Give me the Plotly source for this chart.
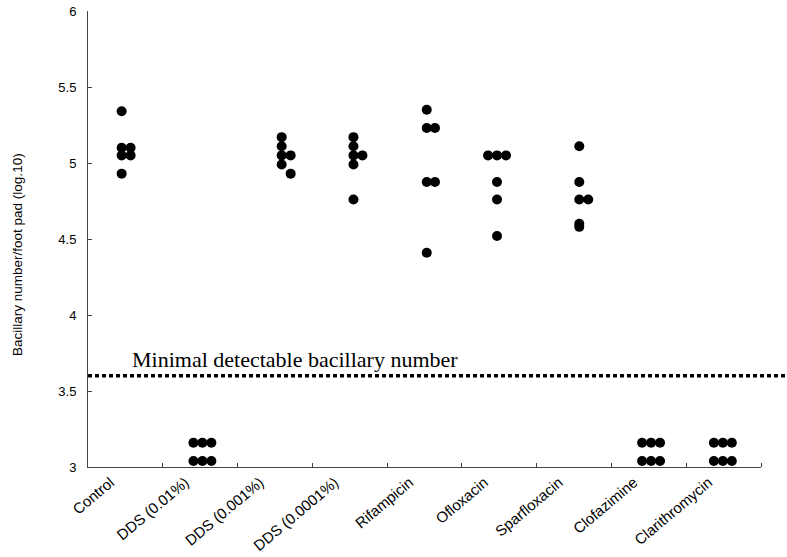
import plotly.graph_objects as go

categories = ["Control", "DDS (0.01%)", "DDS (0.001%)", "DDS (0.0001%)", "Rifampicin",
              "Ofloxacin", "Sparfloxacin", "Clofazimine", "Clarithromycin"]

# log10 bacillary number per foot pad, one value per mouse
control = [5.34, 5.10, 5.10, 5.05, 5.05, 4.93]
dds_001 = [3.16, 3.16, 3.16, 3.04, 3.04, 3.04]
dds_0001 = [5.17, 5.11, 5.05, 5.05, 4.99, 4.93]
dds_00001 = [5.17, 5.11, 5.05, 5.05, 4.99, 4.76]
rifampicin = [5.35, 5.23, 5.23, 4.875, 4.875, 4.41]
ofloxacin = [5.05, 5.05, 5.05, 4.875, 4.76, 4.52]
sparfloxacin = [5.11, 4.875, 4.76, 4.76, 4.60, 4.58]
clofazimine = [3.16, 3.16, 3.16, 3.04, 3.04, 3.04]
clarithromycin = [3.16, 3.16, 3.16, 3.04, 3.04, 3.04]

# horizontal jitter of each dot (in category units) as drawn in the figure
jitter_control = [-0.05, -0.05, 0.07, -0.05, 0.07, -0.05]
jitter_dds_001 = [-0.09, 0.03, 0.15, -0.09, 0.03, 0.15]
jitter_dds_0001 = [0.09, 0.09, 0.09, 0.21, 0.09, 0.21]
jitter_dds_00001 = [0.05, 0.05, 0.05, 0.17, 0.05, 0.05]
jitter_rifampicin = [0.03, 0.03, 0.14, 0.03, 0.14, 0.03]
jitter_ofloxacin = [-0.15, -0.03, 0.09, -0.03, -0.03, -0.03]
jitter_sparfloxacin = [0.07, 0.07, 0.07, 0.19, 0.07, 0.07]
jitter_clofazimine = [-0.09, 0.03, 0.15, -0.09, 0.03, 0.15]
jitter_clarithromycin = [-0.13, -0.01, 0.11, -0.13, -0.01, 0.11]

detection_limit = 3.6
detection_label = "Minimal detectable bacillary number"
y_title = "Bacillary number/foot pad (log.10)"
y_tickvals = [3, 3.5, 4, 4.5, 5, 5.5, 6]
y_ticktext = ["3", "3.5", "4", "4.5", "5", "5.5", "6"]

groups = [control, dds_001, dds_0001, dds_00001, rifampicin, ofloxacin,
          sparfloxacin, clofazimine, clarithromycin]
jitters = [jitter_control, jitter_dds_001, jitter_dds_0001, jitter_dds_00001,
           jitter_rifampicin, jitter_ofloxacin, jitter_sparfloxacin,
           jitter_clofazimine, jitter_clarithromycin]

xs, ys = [], []
for i, (vals, jit) in enumerate(zip(groups, jitters)):
    for v, j in zip(vals, jit):
        xs.append(i + j)
        ys.append(v)

fig = go.Figure()
fig.add_trace(go.Scatter(
    x=xs, y=ys, mode="markers",
    marker=dict(color="black", size=10, line=dict(width=0)),
    showlegend=False, hoverinfo="y",
))

fig.add_shape(type="line", xref="paper", yref="y",
              x0=0, x1=1.04, y0=detection_limit, y1=detection_limit,
              line=dict(color="black", width=3.5, dash="4px,3px"))

fig.add_annotation(x=0.062, xref="paper", y=detection_limit, yref="y",
                   xanchor="left", yanchor="bottom", yshift=2,
                   text=detection_label, showarrow=False,
                   font=dict(family="Liberation Serif, Times New Roman, serif",
                             size=22, color="black"))

fig.add_annotation(x=-0.104, xref="paper", y=0.465, yref="paper",
                   text=y_title, textangle=-90, showarrow=False,
                   xanchor="center", yanchor="middle",
                   font=dict(family="Liberation Sans, Arial, sans-serif",
                             size=13.5, color="black"))

y_font = dict(family="Liberation Sans, Arial, sans-serif", size=13, color="black")
x_font = dict(family="Liberation Sans, Arial, sans-serif", size=15, color="black")

label_shift = -0.2  # rotated labels sit a little left of each category centre

fig.update_layout(
    width=787, height=557,
    margin=dict(l=88, r=26, t=11, b=90),
    paper_bgcolor="white", plot_bgcolor="white",
    xaxis=dict(
        range=[-0.5, 8.5], automargin=False,
        tickmode="array", tickvals=[k + label_shift for k in range(len(categories))],
        ticktext=categories,
        tickangle=-40, ticks="", showgrid=False, zeroline=False,
        showline=True, linecolor="#444", linewidth=1,
        tickfont=x_font,
        minor=dict(tickmode="array", tickvals=[k + 0.5 for k in range(len(categories))],
                   ticks="inside", ticklen=4, tickcolor="#444", showgrid=False),
    ),
    yaxis=dict(
        range=[3, 6], automargin=False,
        tickmode="array", tickvals=y_tickvals, ticktext=y_ticktext,
        ticks="inside", ticklen=4, tickcolor="#444",
        showgrid=False, zeroline=False,
        showline=True, linecolor="#444", linewidth=1,
        tickfont=y_font, ticklabelstandoff=8,
    ),
)

fig.write_html("out.html",
               config={"displayModeBar": False},
               post_script="document.body.style.margin='0';document.body.style.overflow='hidden';")
